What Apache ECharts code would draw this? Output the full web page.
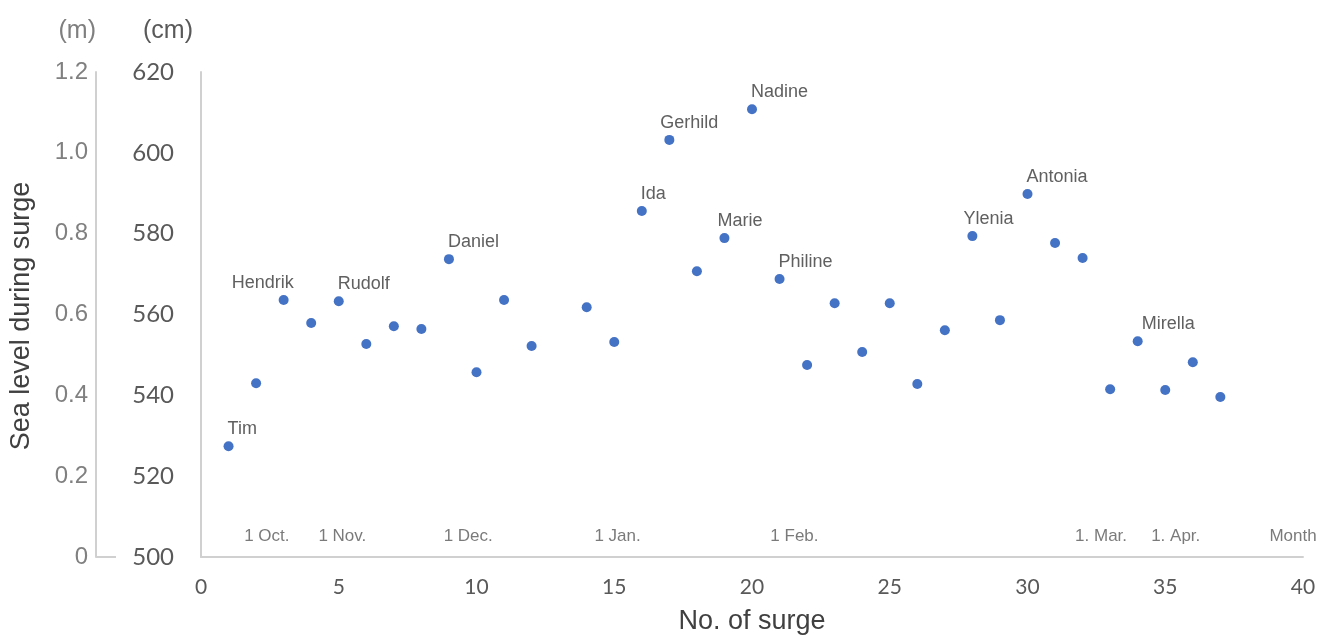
<!DOCTYPE html>
<html>
<head>
<meta charset="utf-8">
<script src="https://cdn.jsdelivr.net/npm/echarts@6/dist/echarts.min.js"></script>
<style>html,body{margin:0;padding:0;background:#fff}#c{width:1321px;height:635px}</style>
</head>
<body>
<div id="c"></div>
<script>
// ---- data ----
const surgeNo = [1,2,3,4,5,6,7,8,9,10,11,12,14,15,16,17,18,19,20,21,22,23,24,25,26,27,28,29,30,31,32,33,34,35,36,37];
const seaLevelCm = [527.4,543.0,563.6,557.9,563.3,552.7,557.1,556.4,573.7,545.7,563.6,552.2,561.8,553.2,585.6,603.2,570.7,578.9,610.8,568.8,547.5,562.8,550.7,562.8,542.8,556.1,579.4,558.6,589.8,577.7,574.0,541.5,553.4,541.3,548.2,539.6];
const stormNames = ['Tim','','Hendrik','','Rudolf','','','','Daniel','','','','','','Ida','Gerhild','','Marie','Nadine','Philine','','','','','','','Ylenia','','Antonia','','','','Mirella','','',''];
const monthLabels = ['1 Oct.','1 Nov.','1 Dec.','1 Jan.','1 Feb.','1. Mar.','1. Apr.','Month'];
const monthAtSurge = [2.39,5.13,9.70,15.12,21.54,32.67,35.38,39.64];
const monthLevelCm = 505;
const xTicks = [0,5,10,15,20,25,30,35,40];
const cmTicks = [500,520,540,560,580,600,620];
const mTicks = [0,0.2,0.4,0.6,0.8,1.0,1.2];

// ---- style helpers ----
const labelShift = {Hendrik:-52, Gerhild:-9, Marie:-7, Ylenia:-9, Mirella:4};
const axisGray = '#d0d0d0';

const chart = echarts.init(document.getElementById('c'), null, {renderer:'canvas'});

const pts = surgeNo.map((n,i)=>{
  const name = stormNames[i];
  return {
    value:[n, seaLevelCm[i]],
    name: name,
    label: name ? {show:true, offset:[labelShift[name] !== undefined ? labelShift[name] : -1, 0]} : {show:false}
  };
});

const monthPts = monthLabels.map((t,i)=>({value:[monthAtSurge[i], monthLevelCm], name:t}));

chart.setOption({
  animation:false,
  backgroundColor:'#fff',
  grid:{left:201, right:18, top:72, bottom:78, containLabel:false, outerBoundsMode:'none'},
  xAxis:{
    type:'value', min:xTicks[0], max:xTicks[xTicks.length-1], interval:5,
    name:'No. of surge', nameLocation:'middle', nameGap:51,
    nameTextStyle:{fontFamily:'Liberation Sans', fontSize:27, color:'#404040'},
    axisLine:{show:true, lineStyle:{color:axisGray, width:2}},
    axisTick:{show:false},
    splitLine:{show:false},
    axisLabel:{fontFamily:'Lato', fontSize:21, color:'#595959', margin:20}
  },
  yAxis:[
    {
      type:'value', min:cmTicks[0], max:cmTicks[cmTicks.length-1], interval:20,
      position:'left',
      name:'(cm)', nameLocation:'end', nameGap:28,
      nameTextStyle:{fontFamily:'Liberation Sans', fontSize:25, color:'#595959', align:'right', padding:[0,8,0,0]},
      axisLine:{show:true, lineStyle:{color:axisGray, width:2}},
      axisTick:{show:false},
      splitLine:{show:false},
      axisLabel:{fontFamily:'Lato', fontSize:24, color:'#595959', margin:27}
    },
    {
      type:'value', min:mTicks[0], max:mTicks[mTicks.length-1], interval:0.2,
      position:'left', offset:105,
      name:'(m)', nameLocation:'end', nameGap:28,
      nameTextStyle:{fontFamily:'Liberation Sans', fontSize:25, color:'#7f7f7f', align:'right', padding:[0,0,0,0]},
      axisLine:{show:true, onZero:false, lineStyle:{color:axisGray, width:2}},
      axisTick:{show:false},
      splitLine:{show:false},
      axisLabel:{fontFamily:'Liberation Sans', fontSize:24, color:'#808080', margin:8,
        formatter:v=> v===0 ? '0' : v.toFixed(1)}
    }
  ],
  series:[
    {
      type:'scatter', yAxisIndex:0, symbol:'circle', symbolSize:10,
      itemStyle:{color:'#4472C4', opacity:1},
      label:{position:'top', distance:3, align:'left', fontFamily:'Liberation Sans', fontSize:18, color:'#606060',
        formatter:p=>p.name},
      emphasis:{disabled:true},
      data:pts
    },
    {
      type:'scatter', yAxisIndex:0, symbolSize:0, silent:true,
      label:{show:true, position:'inside', fontFamily:'Liberation Sans', fontSize:17, color:'#595959', formatter:p=>p.name},
      data:monthPts
    }
  ]
});

// axis title and the short base line of the metre axis
const mZero = chart.convertToPixel({yAxisIndex:1}, 0);
chart.setOption({
  graphic:[
    {type:'text', x:22, y:316, rotation:Math.PI/2,
      style:{text:'Sea level during surge', fontFamily:'Liberation Sans', fontSize:27, fill:'#404040', align:'center', verticalAlign:'middle'}},
    {type:'line', shape:{x1:96, y1:mZero, x2:116, y2:mZero}, style:{stroke:axisGray, lineWidth:2}}
  ]
});
</script>
</body>
</html>
